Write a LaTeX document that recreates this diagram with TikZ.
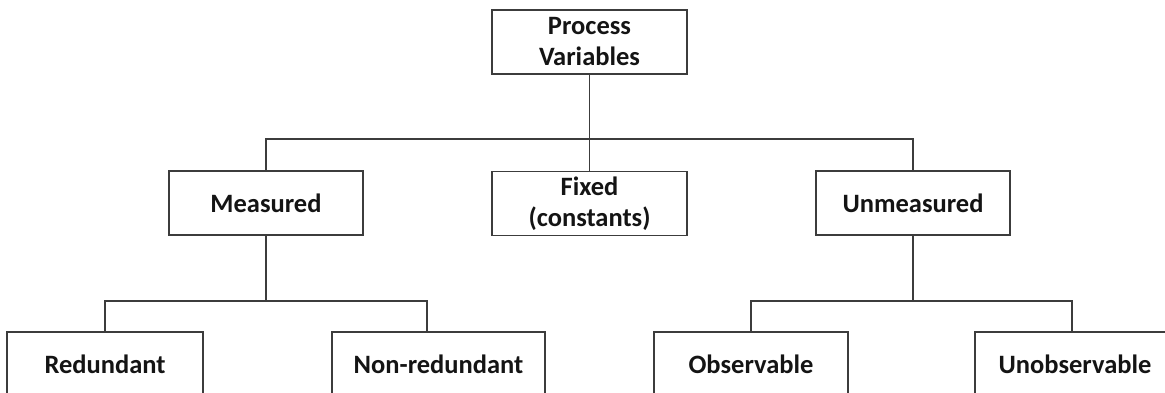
\documentclass[tikz,border=0pt]{standalone}
\usepackage{fontspec}
\setmainfont{Carlito}
\begin{document}
\begin{tikzpicture}[x=1pt,y=-1pt,
  box/.style={draw={rgb,255:red,60;green,60;blue,60}, line width=1.8pt, rectangle, inner sep=0pt,
    minimum height=64pt, align=center, text={rgb,255:red,20;green,20;blue,20},
    font=\fontsize{26.5}{31}\selectfont\bfseries},
  conn/.style={draw={rgb,255:red,60;green,60;blue,60}, line width=1.8pt}]
\useasboundingbox (0,0) rectangle (1165,393);
\clip (0,0) rectangle (1165,393);
\fill[white] (0,0) rectangle (1165,393);
% level 0
\node[box, minimum width=195pt] (pv) at (589.5,42) {Process\\Variables};
% level 1
\node[box, minimum width=194pt] (meas) at (266,203) {Measured};
\node[box, minimum width=195pt] (fix) at (589.5,203.5) {Fixed\\(constants)};
\node[box, minimum width=194pt] (unm) at (913,203) {Unmeasured};
% level 2
\node[box, minimum width=196pt] (red) at (105,364) {Redundant};
\node[box, minimum width=213pt] (nr) at (438.5,364) {Non-redundant};
\node[box, minimum width=194pt] (obs) at (751,364) {Observable};
\node[box, minimum width=200pt] (uno) at (1075,364) {Unobservable};
% bus coordinates
\coordinate (b1) at (pv.south |- 0,139);
\coordinate (b2) at (meas.south |- 0,301);
\coordinate (b3) at (unm.south |- 0,301);
% connectors
\draw[conn] (pv.south) -- (b1);
\draw[conn] (fix.north) -- (b1);
\draw[conn] (meas.north) |- (b1) -| (unm.north);
\draw[conn] (meas.south) -- (b2);
\draw[conn] (red.north) |- (b2) -| ([xshift=96pt]nr.north west);
\draw[conn] (unm.south) -- (b3);
\draw[conn] (obs.north) |- (b3) -| ([xshift=-3pt]uno.north);
\end{tikzpicture}
\end{document}
